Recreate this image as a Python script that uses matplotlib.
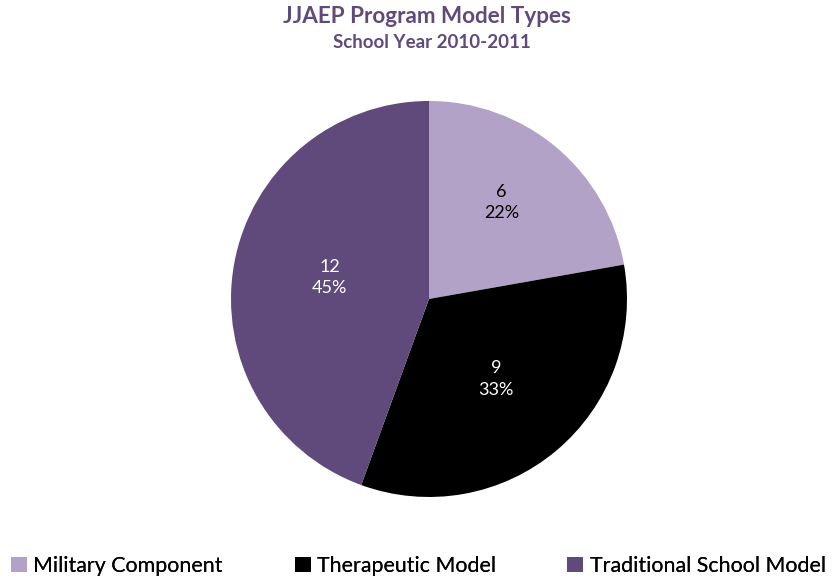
import matplotlib.pyplot as plt
import numpy as np

plt.rcParams['font.family'] = ['Lato', 'DejaVu Sans']

categories = ['Military Component', 'Therapeutic Model', 'Traditional School Model']
values = [6, 9, 12]
pct_labels = ['22%', '33%', '45%']
colors = ['#B3A2C7', '#000000', '#604A7B']
text_colors = ['#000000', '#FFFFFF', '#FFFFFF']

fig = plt.figure(figsize=(8.33, 5.81), dpi=100)
ax = fig.add_axes([0.2773, 0.1446, 0.4754, 0.6816])

wedges, _ = ax.pie(values, colors=colors, startangle=90, counterclock=False,
                   radius=1.0, wedgeprops=dict(linewidth=0))
ax.set_xlim(-1, 1)
ax.set_ylim(-1, 1)
ax.set_aspect('equal')

# label placement like Excel's default, roughly
label_dist = [0.61, 0.527, 0.514]
angle_shift = [3.0, 0.0, -2.2]
for w, v, p, tc, d, s in zip(wedges, values, pct_labels, text_colors, label_dist, angle_shift):
    ang = np.deg2rad((w.theta1 + w.theta2) / 2 + s)
    ax.text(d * np.cos(ang), d * np.sin(ang), f'{v}\n{p}', ha='center', va='center',
            fontsize=13, color=tc, linespacing=1.45)

fig.text(0.513, 0.972, 'JJAEP Program Model Types', ha='center', va='center',
         fontsize=16.2, fontweight='bold', color='#604A7B')
fig.text(0.519, 0.926, 'School Year 2010-2011', ha='center', va='center',
         fontsize=13.5, fontweight='bold', color='#604A7B')

# one legend per entry so each sits where the reference has it
leg_x = [0.0132, 0.354, 0.681]
for w, c, x in zip(wedges, categories, leg_x):
    leg = fig.legend([w], [c], loc='center left', bbox_to_anchor=(x, 0.026),
                     frameon=False, fontsize=15.4, handlelength=0.75, handleheight=0.75,
                     handletextpad=0.3, borderaxespad=0, borderpad=0)
    fig.add_artist(leg)

fig.savefig('out.png', dpi=100)
